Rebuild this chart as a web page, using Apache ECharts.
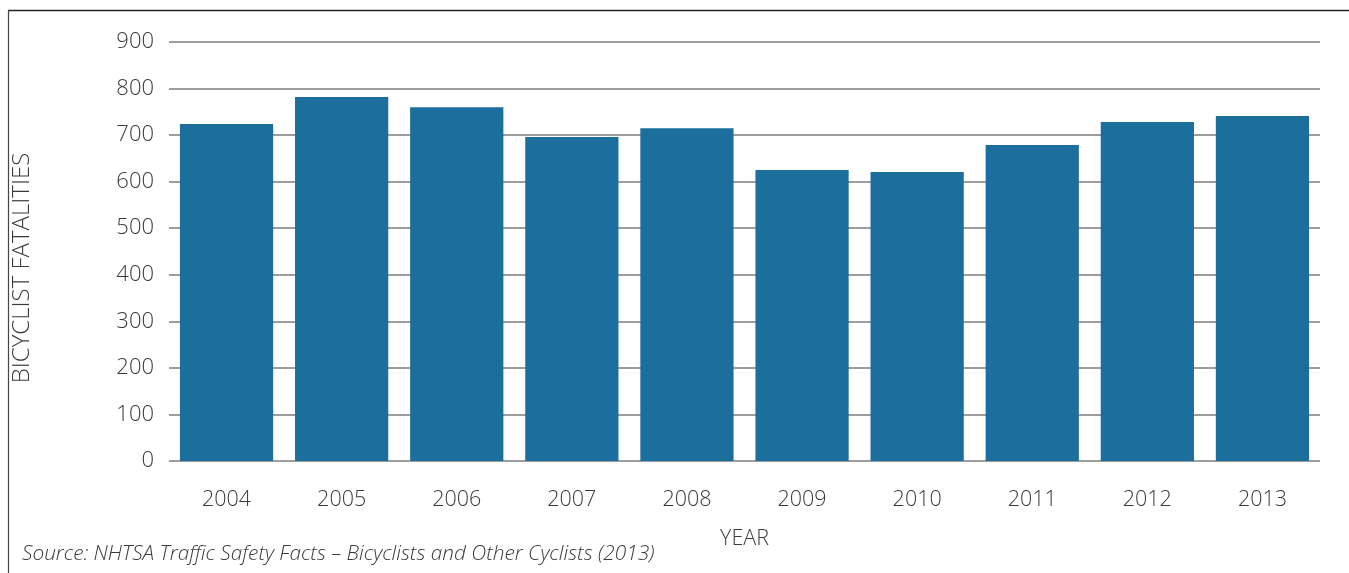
<!DOCTYPE html>
<html>
<head>
<meta charset="utf-8">
<script src="https://cdn.jsdelivr.net/npm/echarts@6/dist/echarts.min.js"></script>
<style>
  html, body { margin: 0; padding: 0; background: #fff; }
  #chart { width: 1349px; height: 573px; }
</style>
</head>
<body>
<div id="chart"></div>
<script>
// Annual bicyclist fatalities in the United States
const years = ['2004', '2005', '2006', '2007', '2008', '2009', '2010', '2011', '2012', '2013'];
const fatalities = [724, 782, 760, 696, 715, 625, 621, 679, 728, 741];
const yTicks = { min: 0, max: 900, interval: 100 };

const FONT = '"Open Sans", "Noto Sans", sans-serif';
const TEXT = '#3a3a3a';

const chart = echarts.init(document.getElementById('chart'), null, { renderer: 'canvas' });

chart.setOption({
  animation: false,
  backgroundColor: '#ffffff',
  grid: { left: 169, right: 29, top: 42, bottom: 112, containLabel: false },
  xAxis: {
    type: 'category',
    data: years,
    name: 'YEAR',
    nameLocation: 'middle',
    nameGap: 67,
    nameTextStyle: { fontFamily: FONT, fontSize: 21.5, fontWeight: 300, color: TEXT },
    axisLine: { show: false },
    axisTick: { show: false },
    axisLabel: { margin: 28, fontFamily: FONT, fontSize: 21.5, fontWeight: 300, color: TEXT }
  },
  yAxis: {
    type: 'value',
    min: yTicks.min,
    max: yTicks.max,
    interval: yTicks.interval,
    axisLine: { show: false },
    axisTick: { show: false },
    axisLabel: { margin: 15, fontFamily: FONT, fontSize: 22, fontWeight: 300, color: TEXT },
    splitLine: { lineStyle: { color: '#7c7c7c', width: 1.6 } }
  },
  series: [{
    type: 'bar',
    data: fatalities,
    barCategoryGap: '19%',
    itemStyle: { color: '#1c6e9c' }
  }],
  graphic: [
    // frame edges along the top and left of the figure
    { type: 'line', shape: { x1: 8, y1: 10.5, x2: 1349, y2: 10.5 }, style: { stroke: '#222', lineWidth: 1.5 } },
    { type: 'line', shape: { x1: 8.5, y1: 10, x2: 8.5, y2: 573 }, style: { stroke: '#444', lineWidth: 1.2 } },
    {
      type: 'text', x: 22, y: 268, rotation: Math.PI / 2,
      style: { text: 'BICYCLIST FATALITIES', align: 'center', verticalAlign: 'middle',
               font: '300 24px ' + FONT, fill: TEXT }
    },
    {
      type: 'text', x: 22, y: 554,
      style: { text: 'Source: NHTSA Traffic Safety Facts \u2013 Bicyclists and Other Cyclists (2013)',
               align: 'left', verticalAlign: 'middle',
               font: 'italic 300 20.8px ' + FONT, fill: TEXT }
    }
  ]
});
</script>
</body>
</html>
